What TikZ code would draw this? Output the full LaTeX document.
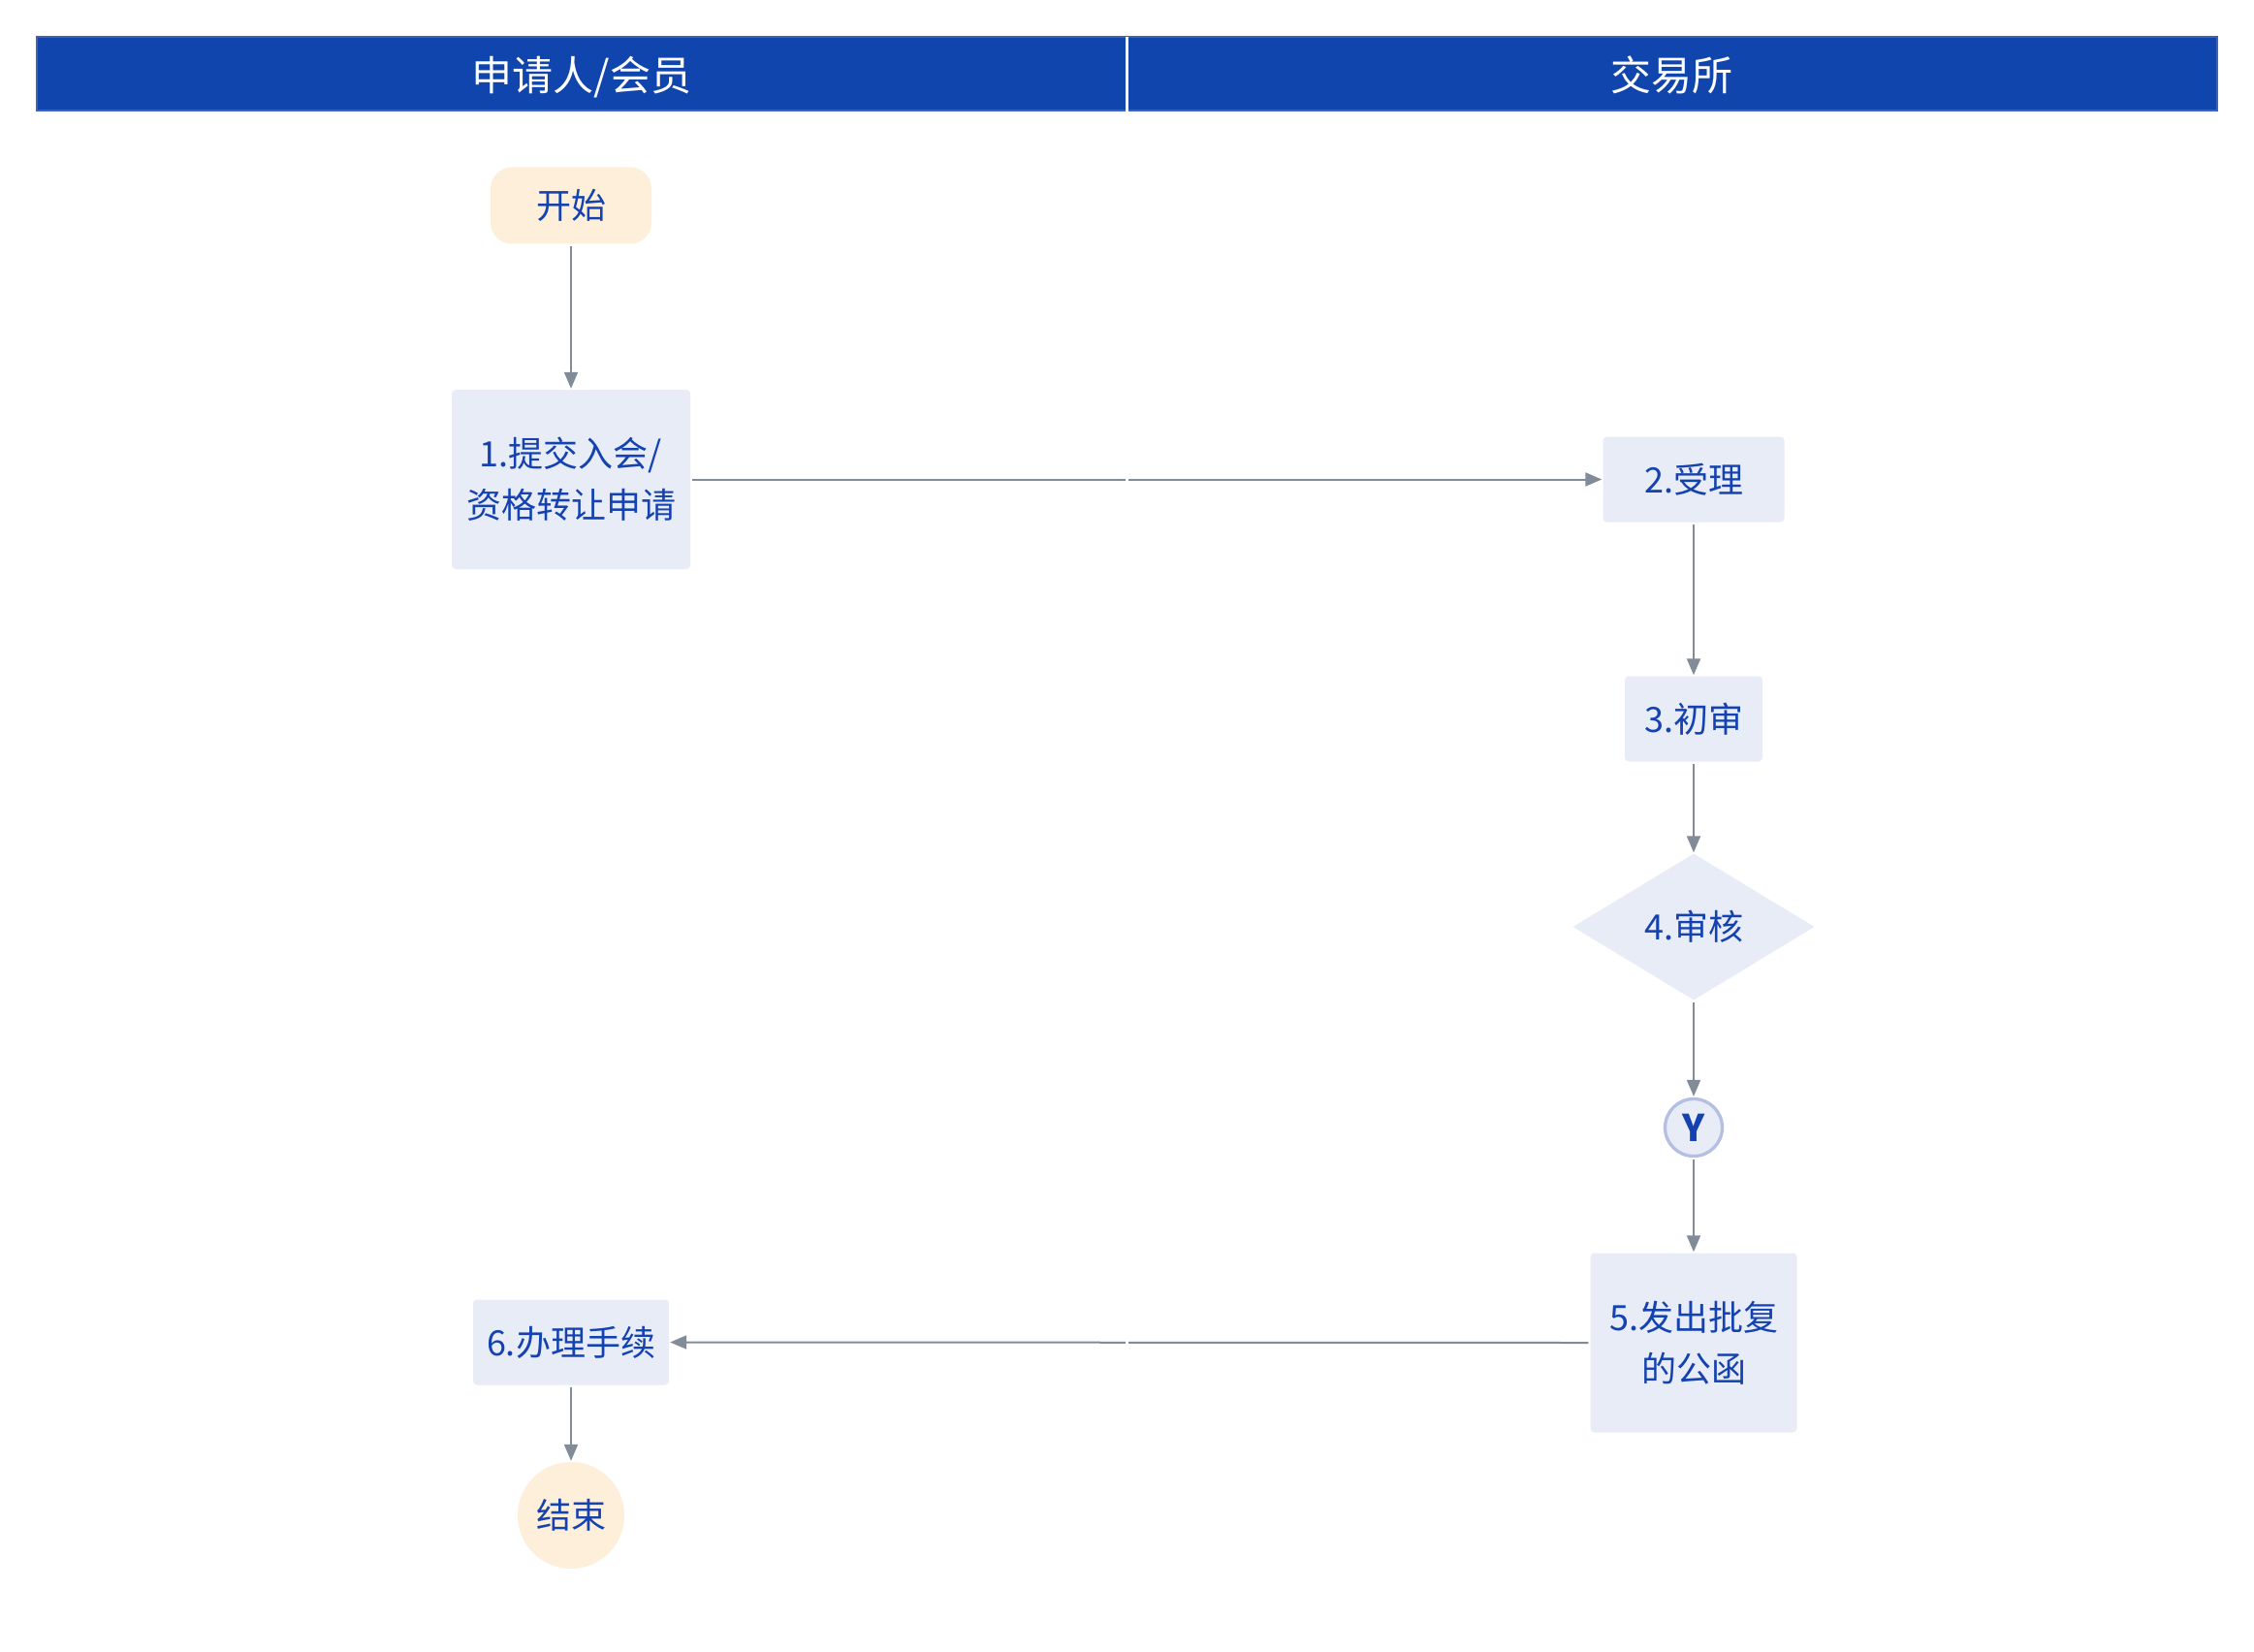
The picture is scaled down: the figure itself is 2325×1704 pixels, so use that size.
\documentclass[tikz,border=0pt]{standalone}
\usepackage{fontspec}
\setmainfont{Noto Sans CJK SC}
\usetikzlibrary{shapes.geometric,arrows.meta}
\definecolor{hdrblue}{RGB}{16,69,174}
\definecolor{hdrline}{RGB}{60,100,190}
\definecolor{txtblue}{RGB}{20,66,176}
\definecolor{nodefill}{RGB}{232,236,247}
\definecolor{cream}{RGB}{253,239,217}
\definecolor{arrowgray}{RGB}{130,140,153}
\definecolor{yborder}{RGB}{181,191,226}
\tikzset{
  hdrtext/.style={text=white, font=\fontsize{42}{50}\selectfont, inner sep=0pt,
    text height=38pt, text depth=10pt},
  procbox/.style={rectangle, rounded corners=4pt, fill=nodefill, text=txtblue,
    font=\fontsize{36}{53}\selectfont, align=center, inner sep=0pt},
  terminal/.style={rectangle, fill=cream, text=txtblue,
    font=\fontsize{36}{53}\selectfont, align=center, inner sep=0pt},
  decision/.style={diamond, fill=nodefill, text=txtblue, aspect=1.65,
    font=\fontsize{36}{53}\selectfont, inner sep=0pt, minimum width=249pt, minimum height=151pt},
  ycircle/.style={circle, fill=nodefill, draw=yborder, line width=3.3pt, text=txtblue,
    font=\fontsize{38}{40}\selectfont\bfseries, inner sep=0pt, minimum size=59pt},
  conn/.style={draw=arrowgray, line width=2pt, shorten <=2pt, shorten >=1pt,
    -{Triangle[length=17pt,width=14pt]}},
  divline/.style={draw=white, line width=2.5pt}
}
\begin{document}
\begin{tikzpicture}[x=1pt,y=-1pt]
\useasboundingbox (0,0) rectangle (2325,1704);
\fill[white] (0,0) rectangle (2325,1704);
% header
\filldraw[fill=hdrblue, draw=hdrline, line width=1.5pt] (38,38) rectangle (2287,114);
\coordinate (dtop) at (1162.5,38);
\coordinate (dmid) at (1162.5,114);
\coordinate (dbot) at (1162.5,1704);
\draw[divline] (dtop) -- (dmid);
\node[hdrtext] (h1) at (600,80) {申请人/会员};
\node[hdrtext] (h2) at (1724.5,80) {交易所};
% nodes
\node[terminal, rounded corners=22pt, minimum width=166pt, minimum height=79pt] (start) at (589,212) {开始};
\node[procbox, minimum width=246pt, minimum height=185pt] (n1) at (589,494.5) {1.提交入会/\\资格转让申请};
\node[procbox, minimum width=187pt, minimum height=88pt] (n2) at (1747,494.5) {2.受理};
\node[procbox, minimum width=142pt, minimum height=88pt] (n3) at (1747,741.5) {3.初审};
\node[decision] (n4) at (1747,956) {4.审核};
\node[ycircle] (y) at (1747,1163) {Y};
\node[procbox, minimum width=213pt, minimum height=185pt] (n5) at (1747,1385) {5.发出批复\\的公函};
\node[procbox, minimum width=202pt, minimum height=88pt] (n6) at (589,1384.5) {6.办理手续};
\node[terminal, circle, minimum size=110pt] (end) at (589,1563) {结束};
% connectors
\draw[conn] (start) -- (n1);
\draw[conn] (n1) -- (n2);
\draw[conn] (n2) -- (n3);
\draw[conn] (n3) -- (n4);
\draw[conn] (n4) -- (y);
\draw[conn] (y) -- (n5);
\draw[conn] (n5.west) -- (n6.east);
\draw[conn] (n6) -- (end);
% lane divider (white) crossing the connectors
\draw[divline] (dmid) -- (dbot);
\end{tikzpicture}
\end{document}
